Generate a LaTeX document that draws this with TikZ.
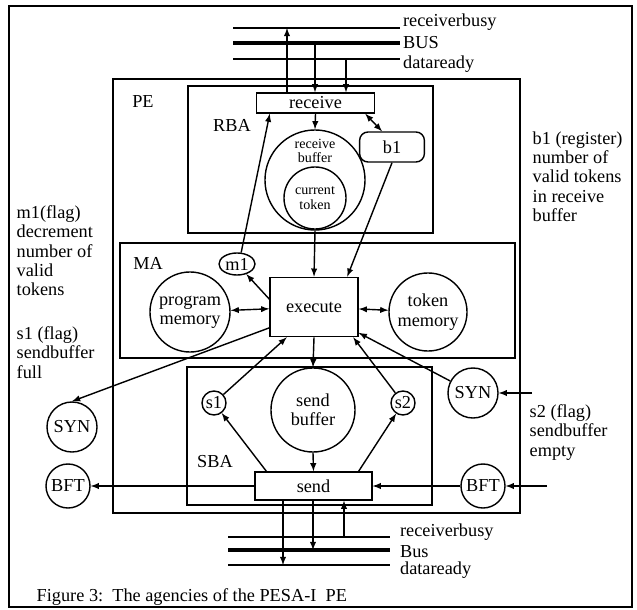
\documentclass[tikz,border=0pt]{standalone}
\usepackage{fontspec}
\setmainfont{Liberation Serif}
\usetikzlibrary{positioning,shapes.geometric}

\begin{document}
\begin{tikzpicture}[>=latex, x=0.025cm, y=-0.025cm, line width=1pt,
    font=\fontsize{13}{13.7}\selectfont,
    circ/.style={draw, circle, inner sep=0pt, align=center},
    blk/.style={draw, rectangle, inner sep=0pt},
    tiny/.style={font=\fontsize{10}{10.5}\selectfont, align=center},
    note/.style={anchor=north west, align=left, inner sep=0pt}]

    \useasboundingbox (0,0) rectangle (637,610);
    % Khung ngoài
    \draw[line width=1.3pt] (9,6) rectangle (632,607);

    % Các khối PE, RBA, MA, SBA
    \draw[line width=1.4pt] (113,79) rectangle (520,513);
    \draw[line width=1.4pt] (188,86) rectangle (433,233);
    \draw[line width=1.4pt] (120,243) rectangle (515,358);
    \draw[line width=1.4pt] (187,367) rectangle (432,505);
    \node (pe) at (143,102) {PE};
    \node (rba) at (232,125) {RBA};
    \node (ma) at (148,263) {MA};
    \node (sba) at (215,462) {SBA};

    % Bus trên và bus dưới
    \foreach \y/\w in {28/1.2pt, 43/2.8pt, 59/1.2pt} {
        \draw[line width=\w] (233,\y) -- (400,\y);
    }
    \foreach \y/\w in {537/1.2pt, 550/2.8pt, 565/1.2pt} {
        \draw[line width=\w] (228,\y) -- (390,\y);
    }
    \node[right, inner sep=1pt] (rbT) at (401,22) {receiverbusy};
    \node[right, inner sep=1pt] (busT) at (401,43) {BUS};
    \node[right, inner sep=1pt] (drT) at (401,64) {dataready};
    \node[right, inner sep=1pt] (rbB) at (398,532) {receiverbusy};
    \node[right, inner sep=1pt] (busB) at (398,552) {Bus};
    \node[right, inner sep=1pt] (drB) at (398,570) {dataready};
    \coordinate (tRB) at (287,28);
    \coordinate (tBUS) at (315,43);
    \coordinate (tDR) at (346,59);
    \coordinate (bRB) at (344,537);
    \coordinate (bBUS) at (313,550);
    \coordinate (bDR) at (283,565);

    % Các nút
    \node[blk, minimum width=2.95cm, minimum height=0.5cm] (rcv) at (315.5,103) {receive};
    \node[circ, minimum size=2.5cm] (rbuf) at (315,180) {};
    \node[tiny] (rbuft) at (315,151) {receive\\buffer};
    \node[circ, tiny, minimum size=1.55cm] (ctok) at (315,198) {current\\token};
    \node[draw, rounded corners=6pt, minimum width=1.62cm, minimum height=0.75cm,
          inner sep=0pt] (b1) at (392,147) {b1};
    \node[draw, ellipse, minimum width=0.9cm, minimum height=0.55cm,
          inner sep=0pt] (m1) at (237,264) {m1};
    \node[circ, minimum size=2cm] (prog) at (190,312) {program\\memory};
    \node[blk, minimum width=2.2cm, minimum height=1.48cm] (exec) at (314,307) {execute};
    \node[circ, minimum size=1.95cm] (tok) at (428,312) {token\\memory};
    \node[circ, minimum size=2.1cm] (sbuf) at (313,410) {send\\buffer};
    \node[circ, minimum size=0.6cm] (s1) at (214,403) {s1};
    \node[circ, minimum size=0.6cm] (s2) at (403,403) {s2};
    \node[blk, minimum width=2.92cm, minimum height=0.7cm] (send) at (313.5,486) {send};
    \node[circ, minimum size=1.25cm] (synL) at (72,427) {SYN};
    \node[circ, minimum size=1.1cm] (bftL) at (68,486) {BFT};
    \node[circ, minimum size=1.25cm] (synR) at (473,393) {SYN};
    \node[circ, minimum size=1.1cm] (bftR) at (483,486) {BFT};
    \coordinate (synIn) at (532,393);
    \coordinate (bftIn) at (547,486);

    % Chú thích
    \node[note] (m1txt) at (16,205) {m1(flag)\\decrement\\number of\\valid\\tokens};
    \node[note] (s1txt) at (16,326) {s1 (flag)\\sendbuffer\\full};
    \node[note] (b1txt) at (532,131) {b1 (register)\\number of\\valid tokens\\in receive\\buffer};
    \node[note] (s2txt) at (529,404) {s2 (flag)\\sendbuffer\\empty};
    \node[note] (cap) at (36,588) {Figure 3:\ \ The agencies of the PESA-I\ \ PE};

    % Mũi tên với bus
    \draw[->] (rcv.north -| tRB) -- (tRB);
    \draw[->] (tBUS) -- (rcv.north -| tBUS);
    \draw[->] (tDR) -- (rcv.north -| tDR);
    \draw[->] (bRB) -- (send.south -| bRB);
    \draw[->] (send.south -| bBUS) -- (bBUS);
    \draw[->] (send.south -| bDR) -- (bDR);

    % Mũi tên bên trong
    \draw[<->] ([xshift=-0.25cm]rcv.south east) -- ([xshift=-0.25cm]b1.north);
    \draw[->] (rcv.south) -- (rbuf.north);
    \draw[->] (m1.70) -- ([xshift=0.35cm]rcv.south west);
    \draw[->] (b1.south) -- ([xshift=0.83cm]exec.north);
    \draw[->] (rbuf.south) -- (exec.north);
    \draw[->] (exec.170) -- (m1);
    \draw[<->] (prog) -- (exec);
    \draw[<->] (tok) -- (exec);
    \draw[->] (exec.south) -- (sbuf.north);
    \draw[->] (sbuf.south) -- (send.north);
    \draw[->] (s1) -- ([xshift=-0.68cm]exec.south);
    \draw[->] ([xshift=0.3cm]send.north west) -- (s1);
    \draw[->] (s2) -- ([xshift=0.98cm]exec.south);
    \draw[->] ([xshift=-0.35cm]send.north east) -- (s2);
    \draw[->] (synR) -- (exec.330);
    \draw[->] (exec.205) -- (synL.north);
    \draw[->] (send.west) -- (bftL);
    \draw[->] (bftR) -- (send.east);
    \draw[->] (synIn) -- (synR);
    \draw[->] (bftIn) -- (bftR);

\end{tikzpicture}
\end{document}
